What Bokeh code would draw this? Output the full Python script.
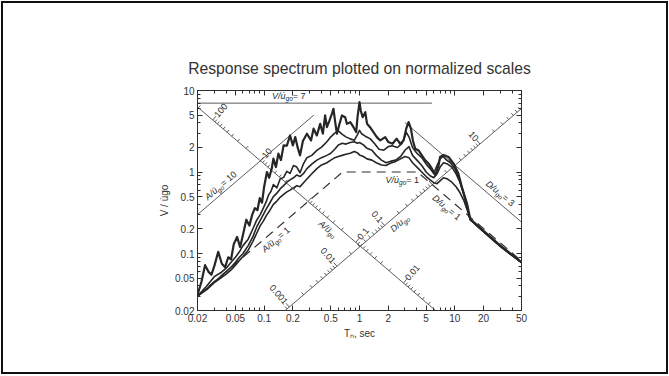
import math

from bokeh.core.properties import value
from bokeh.embed import file_html
from bokeh.models import (ColumnDataSource, CustomJSTickFormatter, FixedTicker,
                          LogAxis, Range1d)
from bokeh.plotting import figure
from bokeh.resources import INLINE

# ---------------------------------------------------------------------------
# Ground-motion peaks (El Centro) used to normalise the spectrum
# ---------------------------------------------------------------------------
UGO = 8.40                 # peak ground displacement, in
UGO_DOT = 13.04            # peak ground velocity, in/s
UGO_DDOT = 0.319 * 386.1   # peak ground acceleration, in/s^2
C_A = 2 * math.pi * UGO_DOT / UGO_DDOT   # A/ügo = C_A * (V/u̇go) / Tn
C_D = UGO_DOT / (2 * math.pi * UGO)      # D/ugo = C_D * (V/u̇go) * Tn

T_MIN, T_MAX = 0.02, 50.0
V_MIN, V_MAX = 0.02, 10.0

x_ticks = [0.02, 0.05, 0.1, 0.2, 0.5, 1, 2, 5, 10, 20, 50]
y_ticks = [0.02, 0.05, 0.1, 0.2, 0.5, 1, 2, 5, 10]

# ---------------------------------------------------------------------------
# Pseudo-velocity spectra V/u̇go versus Tn, damping 0, 2, 5 and 10 %
# ---------------------------------------------------------------------------
zeta0_T = [0.020, 0.022, 0.024, 0.026, 0.028, 0.030, 0.033, 0.036, 0.039, 0.042,
           0.045, 0.048, 0.052, 0.056, 0.060, 0.065, 0.070, 0.075, 0.080, 0.085,
           0.090, 0.095, 0.100, 0.107, 0.113, 0.120, 0.125, 0.133, 0.141, 0.150,
           0.160, 0.173, 0.187, 0.200, 0.212, 0.224, 0.238, 0.255, 0.281, 0.310,
           0.330, 0.357, 0.387, 0.413, 0.436, 0.455, 0.485, 0.513, 0.533, 0.556,
           0.580, 0.617, 0.654, 0.708, 0.737, 0.800, 0.865, 0.923, 0.953, 1.000,
           1.03, 1.08, 1.15, 1.20, 1.29, 1.40, 1.52, 1.65, 1.86, 2.01,
           2.22, 2.45, 2.67, 2.90, 3.09, 3.27, 3.46, 3.63, 3.84, 4.16,
           4.51, 4.89, 5.30, 5.75, 6.23, 6.75, 7.00, 7.60, 8.60, 9.70,
           10.9, 12.0, 13.4, 14.5, 20.0, 30.0, 40.0, 50.0]
zeta0_V = [0.031, 0.045, 0.072, 0.060, 0.055, 0.070, 0.105, 0.075, 0.068, 0.090,
           0.085, 0.130, 0.160, 0.120, 0.170, 0.260, 0.220, 0.300, 0.360, 0.340,
           0.480, 0.420, 0.660, 1.000, 0.850, 1.100, 1.460, 1.150, 1.680, 1.400,
           2.120, 2.100, 2.810, 2.120, 2.680, 2.020, 1.600, 2.400, 2.950, 2.440,
           3.400, 2.810, 3.900, 2.950, 4.940, 3.550, 4.290, 5.180, 5.970, 4.090,
           2.950, 3.900, 4.940, 4.710, 3.900, 4.090, 3.550, 3.090, 4.710, 7.200,
           5.69, 4.71, 5.42, 3.90, 3.55, 3.09, 2.68, 2.44, 2.68, 2.33,
           2.22, 2.56, 2.22, 2.44, 3.40, 4.09, 3.40, 2.44, 1.93, 1.84,
           1.60, 1.39, 1.27, 1.10, 0.91, 1.20, 1.53, 1.62, 1.53, 1.27,
           0.95, 0.62, 0.41, 0.265, 0.190, 0.125, 0.096, 0.078]

zeta2_T = [0.020, 0.025, 0.030, 0.035, 0.040, 0.045, 0.050, 0.055, 0.060, 0.068,
           0.076, 0.084, 0.091, 0.098, 0.105, 0.111, 0.118, 0.125, 0.136, 0.147,
           0.160, 0.173, 0.187, 0.203, 0.220, 0.238, 0.259, 0.281, 0.316, 0.357,
           0.400, 0.455, 0.500, 0.550, 0.600, 0.660, 0.720, 0.800, 0.880, 0.950,
           1.00, 1.05, 1.15, 1.30, 1.45, 1.60, 1.80, 2.00, 2.20, 2.50,
           2.80, 3.10, 3.30, 3.60, 4.00, 4.50, 5.00, 5.50, 6.00, 6.50,
           7.00, 7.50, 8.20, 9.00, 10.0, 11.0, 12.0, 13.2, 14.5, 20.0,
           30.0, 40.0, 50.0]
zeta2_V = [0.030, 0.040, 0.052, 0.058, 0.066, 0.078, 0.090, 0.105, 0.125, 0.150,
           0.200, 0.260, 0.300, 0.360, 0.430, 0.520, 0.580, 0.700, 0.640, 0.820,
           0.860, 1.020, 0.960, 1.200, 1.150, 0.980, 1.270, 1.500, 1.600, 1.840,
           2.020, 2.350, 2.700, 3.000, 3.200, 2.900, 2.700, 2.550, 2.450, 2.850,
           3.25, 2.95, 2.75, 2.55, 2.20, 1.90, 1.85, 2.05, 2.10, 2.00,
           2.25, 3.05, 2.70, 2.00, 1.70, 1.50, 1.25, 1.10, 0.96, 1.20,
           1.45, 1.55, 1.40, 1.30, 1.10, 0.85, 0.60, 0.40, 0.26, 0.185,
           0.123, 0.095, 0.078]

zeta5_T = [0.020, 0.025, 0.030, 0.035, 0.040, 0.045, 0.050, 0.055, 0.060, 0.068,
           0.076, 0.084, 0.091, 0.098, 0.105, 0.115, 0.125, 0.136, 0.147, 0.160,
           0.173, 0.187, 0.203, 0.220, 0.238, 0.259, 0.281, 0.316, 0.357, 0.400,
           0.455, 0.500, 0.550, 0.600, 0.660, 0.720, 0.800, 0.880, 0.950, 1.000,
           1.10, 1.20, 1.35, 1.50, 1.70, 1.90, 2.10, 2.40, 2.70, 3.00,
           3.30, 3.60, 4.00, 4.50, 5.00, 5.50, 6.00, 6.50, 7.00, 7.60,
           8.40, 9.30, 10.3, 11.3, 12.4, 13.5, 14.5, 20.0, 30.0, 40.0,
           50.0]
zeta5_V = [0.030, 0.037, 0.045, 0.052, 0.060, 0.068, 0.078, 0.090, 0.100, 0.125,
           0.160, 0.215, 0.255, 0.300, 0.350, 0.420, 0.500, 0.550, 0.620, 0.680,
           0.750, 0.800, 0.850, 0.920, 0.880, 0.960, 1.100, 1.250, 1.400, 1.500,
           1.600, 1.700, 1.900, 2.150, 2.250, 2.200, 2.300, 2.350, 2.250, 2.300,
           2.15, 1.95, 1.85, 1.60, 1.40, 1.30, 1.35, 1.40, 1.55, 1.85,
           2.05, 1.60, 1.40, 1.20, 1.00, 0.90, 0.85, 0.95, 1.15, 1.30,
           1.25, 1.15, 0.95, 0.75, 0.55, 0.38, 0.26, 0.185, 0.122, 0.094,
           0.078]

zeta10_T = [0.020, 0.025, 0.030, 0.035, 0.040, 0.045, 0.050, 0.055, 0.060, 0.068,
            0.076, 0.084, 0.091, 0.098, 0.105, 0.115, 0.125, 0.136, 0.147, 0.160,
            0.173, 0.187, 0.203, 0.220, 0.238, 0.259, 0.281, 0.316, 0.357, 0.400,
            0.455, 0.500, 0.550, 0.600, 0.660, 0.720, 0.800, 0.880, 0.950, 1.000,
            1.10, 1.20, 1.35, 1.50, 1.70, 1.90, 2.10, 2.40, 2.70, 3.00,
            3.30, 3.60, 4.00, 4.50, 5.00, 5.50, 6.00, 6.50, 7.00, 7.60,
            8.40, 9.30, 10.3, 11.3, 12.4, 13.5, 14.5, 20.0, 30.0, 40.0,
            50.0]
zeta10_V = [0.030, 0.036, 0.044, 0.050, 0.056, 0.063, 0.072, 0.082, 0.092, 0.110,
            0.140, 0.180, 0.220, 0.250, 0.290, 0.340, 0.400, 0.440, 0.490, 0.530,
            0.570, 0.600, 0.640, 0.680, 0.660, 0.740, 0.820, 0.950, 1.100, 1.220,
            1.300, 1.400, 1.500, 1.550, 1.600, 1.650, 1.700, 1.780, 1.720, 1.620,
            1.55, 1.45, 1.40, 1.30, 1.22, 1.20, 1.28, 1.35, 1.45, 1.55,
            1.50, 1.30, 1.15, 1.00, 0.88, 0.80, 0.74, 0.72, 0.78, 0.85,
            0.82, 0.75, 0.66, 0.56, 0.45, 0.34, 0.26, 0.185, 0.122, 0.094,
            0.078]

# Reference levels
ground_level = 1.0             # A/ügo = V/u̇go = D/ugo = 1 (dashed)
a_ref, a_ref_vtop = 10.0, 5.0  # A/ügo = 10, drawn up to V/u̇go = 5
v_ref, v_ref_tend = 7.0, 5.75  # V/u̇go = 7, drawn up to Tn = 5.75
d_ref, d_ref_vtop = 3.0, 4.05  # D/ugo = 3, drawn from V/u̇go = 4.05
# Diagonal scales: A read along a constant-D line, D along a constant-A line
d_scale_line = 0.031
a_scale_line = 0.08
a_scale_labels = [100, 10, 0.1, 0.01]
d_scale_labels = [0.001, 0.01, 0.1, 10]


def v_of_a(a, t):
    return a * t / C_A


def v_of_d(d, t):
    return d / (C_D * t)


# ---------------------------------------------------------------------------
# Figure (a 1 px margin and 2 px slide frame surround the canvas)
# ---------------------------------------------------------------------------
FRAME_W, FRAME_H = 324, 220
W, H = 667, 373
BL, BT = 194, 87

p = figure(width=W, height=H, x_axis_type="log", y_axis_type="log",
           x_range=Range1d(T_MIN, T_MAX), y_range=Range1d(V_MIN, V_MAX),
           min_border_left=BL, min_border_right=W - BL - FRAME_W,
           min_border_top=BT, min_border_bottom=H - BT - FRAME_H,
           output_backend="svg", toolbar_location=None,
           background_fill_color="white", border_fill_color="white",
           title="Response spectrum plotted on normalized scales")
p.grid.visible = False
p.outline_line_color = "#3a3a3a"
p.outline_line_width = 1
p.styles = {"border": "2px solid #111111", "margin": "1px"}

FONT = "Liberation Sans"
INK = "#2e2e2e"

p.title.align = "center"
p.title.text_font = FONT
p.title.text_font_size = "15.7px"
p.title.text_font_style = "normal"
p.title.text_color = "#333333"
p.title.offset = 3
p.title.standoff = 27


def minor_list(lo, hi):
    out = []
    e = math.floor(math.log10(lo))
    while 10 ** e <= hi * 1.0001:
        for m in range(1, 10):
            v = m * 10 ** e
            if lo * 0.9999 <= v <= hi * 1.0001:
                out.append(v)
        e += 1
    return out


x_ticker = FixedTicker(ticks=x_ticks, minor_ticks=minor_list(T_MIN, T_MAX))
y_ticker = FixedTicker(ticks=y_ticks, minor_ticks=minor_list(V_MIN, V_MAX))
plain_fmt = CustomJSTickFormatter(code="return String(tick);")
blank_fmt = CustomJSTickFormatter(code="return '';")


def style_axis(ax):
    ax.axis_line_color = INK
    ax.major_tick_line_color = INK
    ax.minor_tick_line_color = INK
    ax.major_tick_in = 5
    ax.major_tick_out = 0
    ax.minor_tick_in = 3
    ax.minor_tick_out = 0
    ax.major_label_text_font = FONT
    ax.major_label_text_font_size = "10px"
    ax.major_label_text_color = "#333333"
    ax.major_label_standoff = 3
    ax.axis_label_text_font = FONT
    ax.axis_label_text_font_size = "10px"
    ax.axis_label_text_font_style = "normal"
    ax.axis_label_text_color = "#333333"


p.xaxis.ticker = x_ticker
p.xaxis.formatter = plain_fmt
p.yaxis.ticker = y_ticker
p.yaxis.formatter = plain_fmt
p.xaxis.axis_label = "Tₙ, sec"
p.yaxis.axis_label = "V / u̇go"
style_axis(p.xaxis[0])
style_axis(p.yaxis[0])
p.xaxis.axis_label_standoff = 3
p.yaxis.axis_label_standoff = 2

for loc, tk in (("above", x_ticker), ("right", y_ticker)):
    ax = LogAxis(ticker=tk, formatter=blank_fmt)
    style_axis(ax)
    ax.major_label_standoff = 0
    ax.major_label_text_font_size = "1px"
    p.add_layout(ax, loc)

# pixel size of a decade on each axis, used to set marks perpendicular to the diagonals
sx = FRAME_W / math.log10(T_MAX / T_MIN)
sy = FRAME_H / math.log10(V_MAX / V_MIN)
ang_up = math.atan2(sy, sx)           # screen angle of a constant-A line
nrm = math.hypot(sx, sy)
n1 = (sy / nrm, sx / nrm)             # normal to constant-D lines, pointing up-right
n2 = (-sy / nrm, sx / nrm)            # normal to constant-A lines, pointing up-left


def neg(n):
    return (-n[0], -n[1])


def shift(t, v, n, px):
    return (t * 10 ** (px * n[0] / sx), v * 10 ** (px * n[1] / sy))


# ---------------------------------------------------------------------------
# Reference lines
# ---------------------------------------------------------------------------
t_av = C_A * ground_level / ground_level
t_vd = ground_level / (C_D * ground_level)
p.line([T_MIN, t_av, t_vd, T_MAX],
       [v_of_a(ground_level, T_MIN), ground_level, ground_level, v_of_d(ground_level, T_MAX)],
       line_color=INK, line_width=1.2, line_dash="9 6")

thin = dict(line_color="#4a4a4a", line_width=0.9)
p.line([T_MIN, C_A * a_ref_vtop / a_ref], [v_of_a(a_ref, T_MIN), a_ref_vtop], **thin)
p.line([T_MIN, v_ref_tend], [v_ref, v_ref], **thin)
p.line([d_ref / (C_D * d_ref_vtop), T_MAX], [d_ref_vtop, v_of_d(d_ref, T_MAX)], **thin)

# diagonal scale lines
t1_end = d_scale_line / (C_D * V_MIN)
p.line([T_MIN, t1_end], [v_of_d(d_scale_line, T_MIN), V_MIN], **thin)
t2_start = C_A * V_MIN / a_scale_line
p.line([t2_start, T_MAX], [V_MIN, v_of_a(a_scale_line, T_MAX)], **thin)


def on_d_line(a):
    t = math.sqrt(d_scale_line * C_A / (C_D * a))
    return t, v_of_d(d_scale_line, t)


def on_a_line(d):
    t = math.sqrt(d * C_A / (C_D * a_scale_line))
    return t, v_of_a(a_scale_line, t)


def inside(t, v):
    return T_MIN <= t <= T_MAX and V_MIN <= v <= V_MAX


tx0, ty0, tx1, ty1 = [], [], [], []
for e in range(-4, 3):
    for m in range(1, 10):
        val = m * 10 ** e
        for fn, n in ((on_d_line, n1), (on_a_line, n2)):
            t, v = fn(val)
            if not inside(t, v):
                continue
            t_b, v_b = shift(t, v, n, 5 if m == 1 else 3)
            tx0.append(t); ty0.append(v); tx1.append(t_b); ty1.append(v_b)
p.segment(tx0, ty0, tx1, ty1, line_color="#4a4a4a", line_width=0.9)

# ---------------------------------------------------------------------------
# Spectra
# ---------------------------------------------------------------------------
for T, V, w in ((zeta10_T, zeta10_V, 1.6), (zeta5_T, zeta5_V, 1.6),
                (zeta2_T, zeta2_V, 1.6), (zeta0_T, zeta0_V, 2.2)):
    p.line(T, V, line_color="#262626", line_width=w, line_join="round")

# ---------------------------------------------------------------------------
# Text on the chart
# ---------------------------------------------------------------------------
# advance widths of Liberation Sans, in 1/1000 em
ADV = {" ": 278, "/": 278, "=": 584, ".": 278, "A": 667, "D": 722, "V": 667,
       "u": 556, "g": 556, "o": 556, "ü": 556, "\u0307": 0}


def text_width(s, size):
    return sum(ADV.get(c, 556) for c in s) * size / 1000.0


def put(text, t, v, angle, n=(0.0, 0.0), gap=0.0, align="center", italic=False,
        size=9, along=0.0, drop=0.0):
    ca, sa = math.cos(angle), math.sin(angle)
    right = gap * n[0] + along * ca + drop * sa
    up = gap * n[1] + along * sa - drop * ca
    src = ColumnDataSource(dict(x=[t], y=[v], text=[text]))
    p.text("x", "y", text="text", source=src, angle=angle,
           x_offset=right, y_offset=-up,
           text_align=align, text_baseline="middle",
           text_font=value(FONT), text_font_size=value(f"{size}px"),
           text_font_style="italic" if italic else "normal",
           text_color="#2a2a2a")


def put_symbol(head, tail, t, v, angle, n=(0.0, 0.0), gap=0.0):
    """Quantity label such as V/u̇go = 7, with 'go' set as a subscript."""
    parts = [(head, 9, 0.0, True), ("go", 6.5, 2.6, True)]
    if tail:
        parts.append((tail, 9, 0.0, False))
    widths = [text_width(s, sz) for s, sz, _, _ in parts]
    pos = -sum(widths) / 2
    for (s, sz, dr, it), w in zip(parts, widths):
        put(s, t, v, angle, n, gap, align="left", italic=it, size=sz, along=pos, drop=dr)
        pos += w


perp1 = math.pi / 2 - ang_up
for a in a_scale_labels:
    t, v = on_d_line(a)
    put(f"{a:g}", t, v, perp1, n1, 5, align="left")
for d in d_scale_labels:
    t, v = on_a_line(d)
    put(f"{d:g}", t, v, -perp1, n2, 5, align="right")

t, v = on_d_line(0.3)
put_symbol("A/ü", "", t, v, -ang_up, neg(n1), 8)
t, v = on_a_line(0.16)
put_symbol("D/u", "", t, v, ang_up, neg(n2), 8)

put_symbol("A/ü", " = 10", C_A * 0.6 / a_ref, 0.6, ang_up, n2, 7)
put_symbol("A/ü", " = 1", C_A * 0.18 / ground_level, 0.18, ang_up, neg(n2), 8)
put_symbol("V/u̇", " = 7", 0.187, v_ref, 0.0, (0.0, 1.0), 7)
put_symbol("V/u̇", " = 1", 2.9, ground_level, 0.0, (0.0, -1.0), 8)
put_symbol("D/u", " = 1", 9.5, v_of_d(ground_level, 9.5), -ang_up, neg(n1), 8)
put_symbol("D/u", " = 3", 27.0, v_of_d(d_ref, 27.0), -ang_up, n1, 8)

open("out.html", "w").write(file_html(p, INLINE))
